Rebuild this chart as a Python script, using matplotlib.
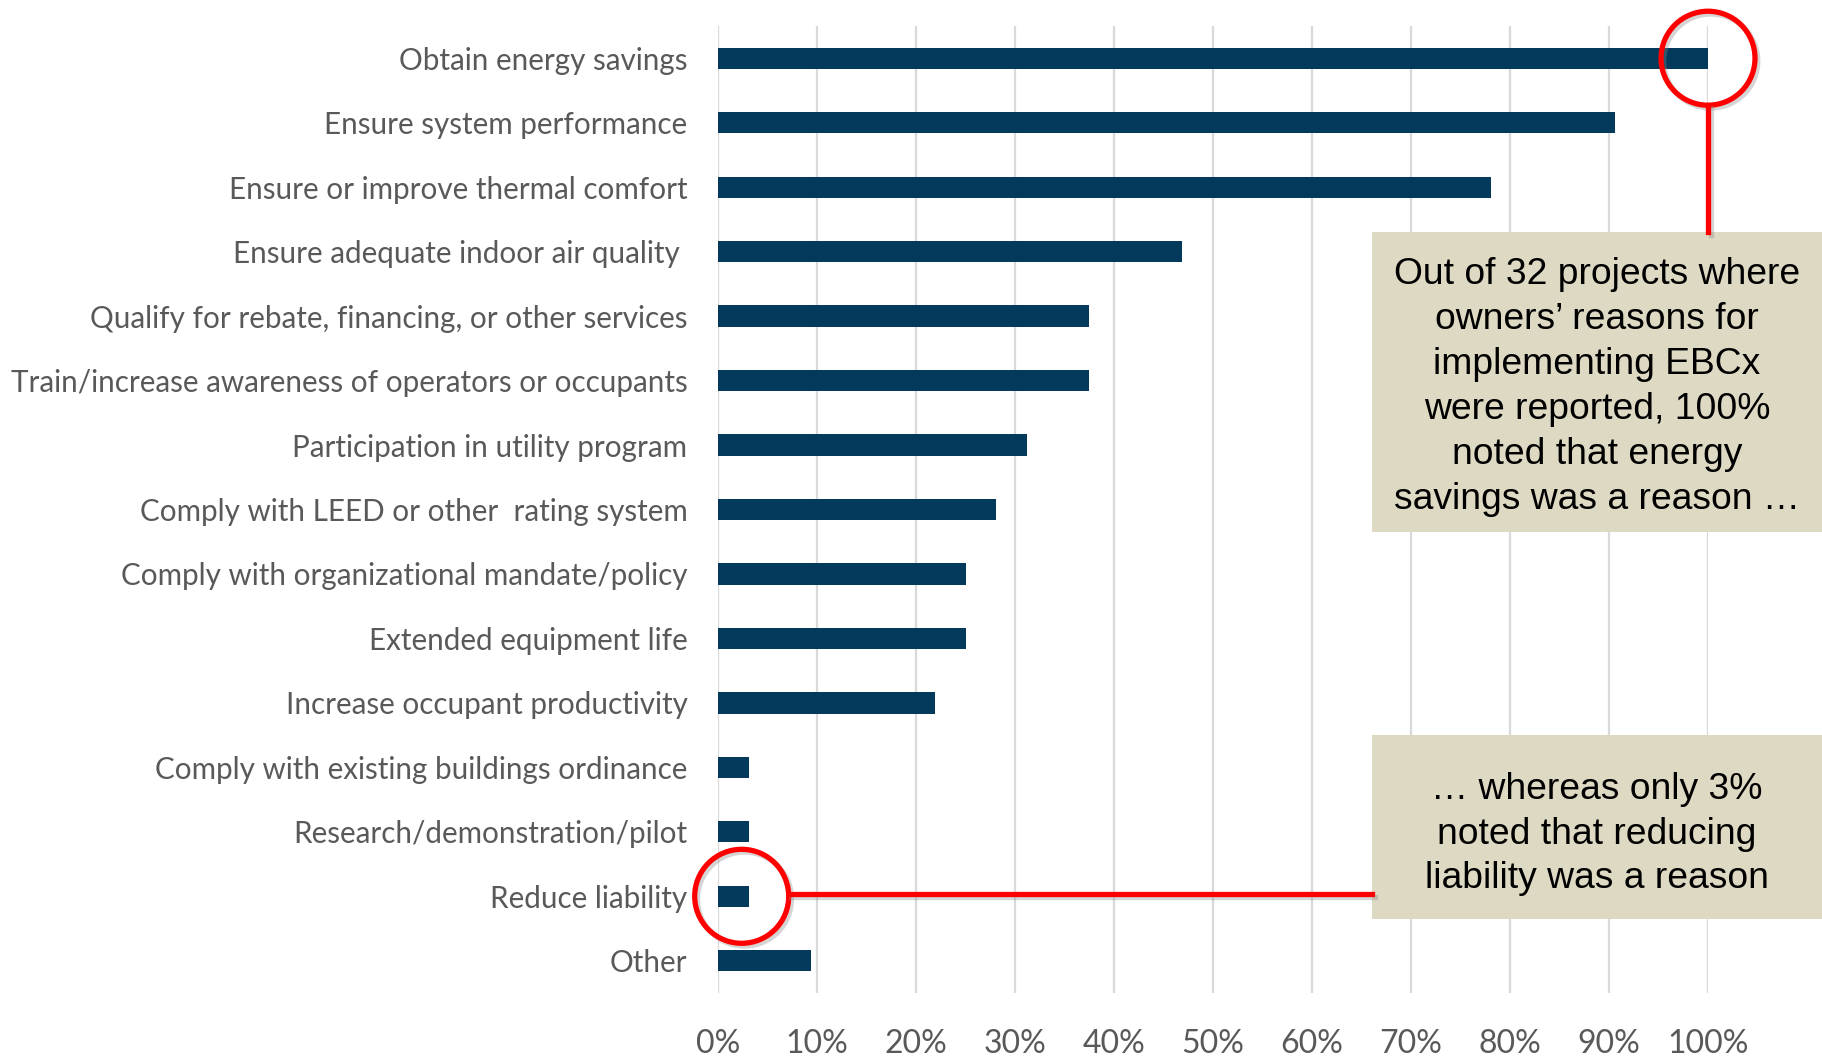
import matplotlib
matplotlib.use("Agg")
import matplotlib.pyplot as plt
import matplotlib.patheffects as pe
import matplotlib.transforms as mtransforms
from matplotlib.patches import Rectangle
from matplotlib.lines import Line2D
import numpy as np

# owners' reasons for implementing EBCx (share of 32 projects)
reasons = [
    "Obtain energy savings",
    "Ensure system performance",
    "Ensure or improve thermal comfort",
    "Ensure adequate indoor air quality ",
    "Qualify for rebate, financing, or other services",
    "Train/increase awareness of operators or occupants",
    "Participation in utility program",
    "Comply with LEED or other  rating system",
    "Comply with organizational mandate/policy",
    "Extended equipment life",
    "Increase occupant productivity",
    "Comply with existing buildings ordinance",
    "Research/demonstration/pilot",
    "Reduce liability",
    "Other",
]
shares = [1.0, 0.906, 0.781, 0.469, 0.375, 0.375, 0.3125, 0.281, 0.25, 0.25,
          0.219, 0.031, 0.031, 0.031, 0.094]
xtick_vals = np.arange(0, 1.01, 0.1)
xtick_labels = ["%d%%" % round(v * 100) for v in xtick_vals]

note_top = ("Out of 32 projects where\nowners\u2019 reasons for\nimplementing EBCx\n"
            "were reported, 100%\nnoted that energy\nsavings was a reason \u2026")
note_bottom = "\u2026 whereas only 3%\nnoted that reducing\nliability was a reason"

W, H = 1822, 1057
BAR = "#033A5C"
GREY = "#595959"
TAN = "#DDD9C3"

fig = plt.figure(figsize=(W / 100, H / 100), dpi=100)
ax = fig.add_axes([718 / W, 1 - 993 / H, 990 / W, 967 / H])

y = np.arange(len(reasons))
ax.barh(y, shares, height=0.33, color=BAR, zorder=3)

ax.set_xlim(0, 1.0)
ax.set_ylim(len(reasons) - 0.5, -0.5)
ax.set_xticks(xtick_vals)
ax.set_xticklabels(xtick_labels, family="Lato", fontsize=23, color=GREY)
ax.set_yticks(y)
ax.set_yticklabels(reasons, family="Lato", fontsize=21.3, color=GREY)
ax.tick_params(length=0)
ax.tick_params(axis="x", pad=26)
ax.tick_params(axis="y", pad=22)
ax.grid(axis="x", color="#D9D9D9", lw=1.6)
ax.set_axisbelow(True)
for s in ax.spines.values():
    s.set_visible(False)


def fig_frac(px, py_top):
    # image pixel (top origin) -> figure fraction
    return px / W, 1 - py_top / H


shadow = [pe.SimpleLineShadow(offset=(2, -2), shadow_color="#888888", alpha=0.35), pe.Normal()]
RED = "#FF0000"

# note boxes
boxes = [(1372, 232, 450, 300, note_top, 5), (1372, 735, 450, 184, note_bottom, 7)]
for bx, by, bw, bh, txt, shift in boxes:
    x0, y1 = fig_frac(bx, by + bh)
    fig.patches.append(Rectangle((x0, y1), bw / W, bh / H, transform=fig.transFigure,
                                 facecolor=TAN, edgecolor="none", zorder=5))
    cx, cy = fig_frac(bx + bw / 2, by + bh / 2 + shift)
    fig.text(cx, cy, txt, ha="center", va="center", family="Liberation Sans",
             fontsize=26.8, linespacing=1.37, color="black", zorder=6)

# red circles on the first bar and on "Reduce liability"
R = 47
i_top = 0
i_liab = reasons.index("Reduce liability")
centers = {}
for i, dx in [(i_top, 0), (i_liab, -7)]:
    tr = ax.transData + mtransforms.ScaledTranslation(dx / 100, 0, fig.dpi_scale_trans)
    ax.plot([shares[i]], [y[i]], marker="o", ms=R * 2 * 0.72, mfc="none", mec=RED,
            mew=3.8, clip_on=False, zorder=7, path_effects=shadow, transform=tr)
    px, py = ax.transData.transform((shares[i], y[i]))
    centers[i] = (px + dx, py)

# connector lines
px0, py0 = centers[i_top]
line1 = Line2D([px0 / W, px0 / W], [(py0 - R) / H, 1 - 232 / H], transform=fig.transFigure,
               color=RED, lw=3.8, zorder=7, path_effects=shadow)
fig.add_artist(line1)
px1, py1 = centers[i_liab]
line2 = Line2D([(px1 + R) / W, 1372 / W], [(py1 + 2) / H, (py1 + 2) / H],
               transform=fig.transFigure, color=RED, lw=3.8, zorder=7, path_effects=shadow)
fig.add_artist(line2)

fig.savefig("out.png", dpi=100, facecolor="white")
